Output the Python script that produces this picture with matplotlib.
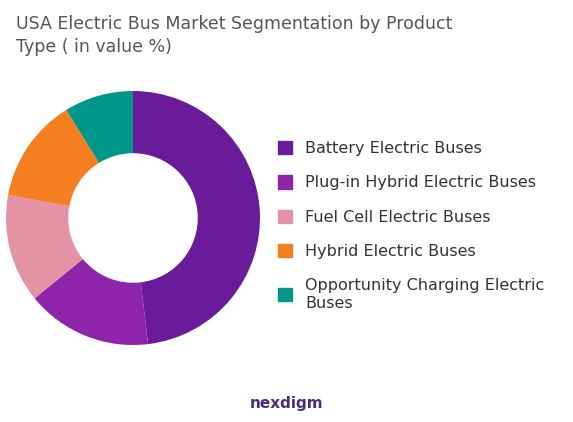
import matplotlib.pyplot as plt

# Segment data (value %)
segments = ['Battery Electric Buses', 'Plug-in Hybrid Electric Buses',
            'Fuel Cell Electric Buses', 'Hybrid Electric Buses',
            'Opportunity Charging Electric\nBuses']
shares = [48.1, 16.0, 13.8, 13.3, 8.8]
colors = ['#6A1B9A', '#8E24AA', '#E393A5', '#F57F20', '#00968A']

fig = plt.figure(figsize=(5.73, 4.22), dpi=100)
fig.patch.set_facecolor('white')

# Donut axes centred at about (133, 218) px with radius 127 px
ax = fig.add_axes([(133 - 127) / 573, (422 - 218 - 127) / 422, 254 / 573, 254 / 422])
ax.pie(shares, colors=colors, startangle=90, counterclock=False, radius=1,
       wedgeprops=dict(width=0.49, edgecolor='white', linewidth=0))
ax.set_xlim(-1, 1)
ax.set_ylim(-1, 1)
ax.set_aspect('equal')

fig.text(0.028, 0.965, 'USA Electric Bus Market Segmentation by Product\nType ( in value %)',
         ha='left', va='top', fontsize=12.5, color='#555555', linespacing=1.35)

# Legend
handles = [plt.Rectangle((0, 0), 1, 1, color=c) for c in colors]
fig.legend(handles, segments, loc='center left', bbox_to_anchor=(0.46, 0.465),
           frameon=False, fontsize=11.5, labelcolor='#333333', handlelength=0.9,
           handleheight=0.9, labelspacing=1.2, handletextpad=0.8)

# Logo text
fig.text(0.5, 0.045, 'nexdigm', ha='center', va='center', fontsize=11,
         color='#4A2A7A', fontweight='bold')

fig.savefig('out.png', dpi=100)
